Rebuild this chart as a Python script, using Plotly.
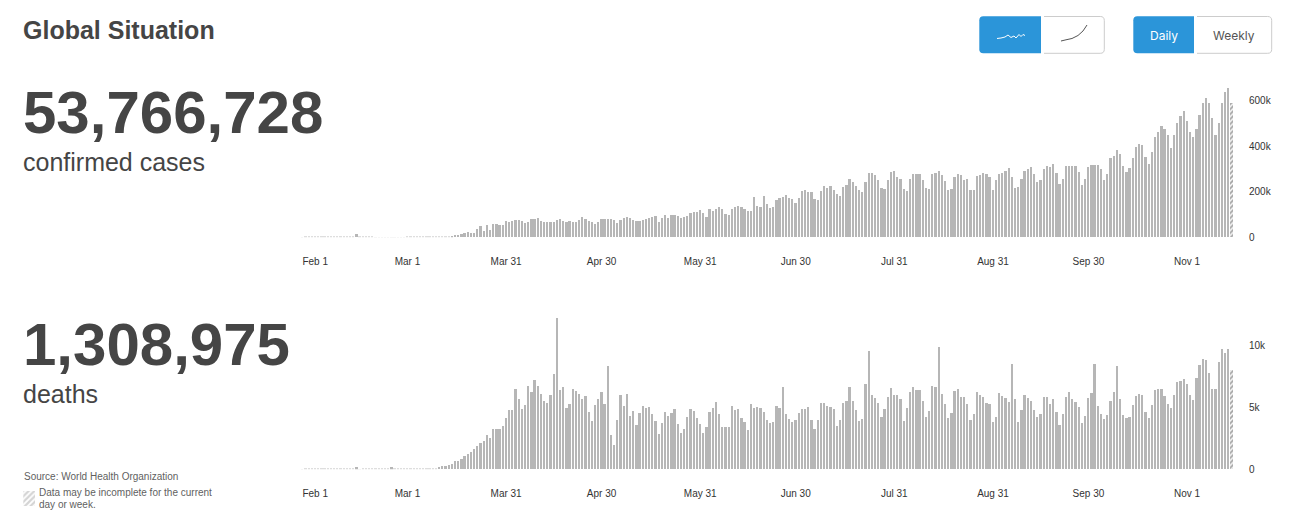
import pandas as pd
import plotly.graph_objects as go

W, H = 1297, 519
first_day = "2020-01-27"

confirmed_k = [
    0.7,1.5,1.5,1.7,2.1,
    2.6,2.8,3.2,3.9,3.7,3.2,3.4,2.7,3.1,2.5,2.0,2.0,15.0,4.0,2.6,2.0,2.0,1.8,0.3,0.5,0.5,1.0,0.3,0.4,0.7,0.8,1.0,1.0,1.5,
    1.8,1.7,1.8,2.2,2.5,2.7,3.0,3.5,3.9,4.5,4.4,
    4,4,7,9,12,15,18,25,20,19,
    37,48,26,53,34,58,58,54,54,70,
    69,70,76,74,70,63,69,79,80,85,
    73,67,66,66,69,76,79,73,67,70,
    67,66,77,91,80,73,69,60,67,80,
    82,79,80,77,64,77,83,88,
    85,76,73,70,76,82,86,88,95,
    69,85,99,85,99,98,95,85,88,93,
    107,111,111,120,108,88,124,114,123,131,
    126,104,99,124,134,136,134,126,114,115,
    177,136,133,180,146,127,131,164,172,175,
    185,172,166,150,172,201,206,200,197,166,
    165,201,223,215,226,209,190,181,220,231,
    256,241,226,206,199,242,280,282,272,251,
    218,210,251,288,293,264,256,212,204,257,
    276,276,276,251,215,212,276,282,292,273,
    248,207,210,264,276,
    273,251,254,209,209,267,274,283,277,266,
    209,250,279,280,291,302,263,218,220,254,
    291,301,310,279,241,250,298,311,310,321,
    280,235,257,311,311,314,314,286,229,254,
    308,318,318,318,298,251,279,347,355,385,
    366,311,288,304,350,396,409,407,352,321,
    375,442,463,486,476,447,390,447,502,534,
    552,511,463,439,476,537,590,609,588,523,
    447,502,587,639,657,588,
]

deaths = [
    10,25,25,40,45,
    45,55,60,65,70,75,85,90,100,105,105,100,160,10,65,70,100,100,115,120,115,100,100,150,70,50,45,55,60,
    65,70,75,80,100,100,105,
    108,108,216,270,297,351,405,675,702,810,
    1080,1269,1404,1674,1890,2160,2268,2754,2565,3240,
    3294,3267,3510,4131,4806,4779,6507,5724,4860,5211,
    6723,6291,7236,6750,6102,5508,5346,6021,7722,12285,
    6426,6669,4968,5319,6534,6372,6102,5724,5967,4644,
    3888,5184,5724,6264,5265,8397,2781,1944,3969,6048,
    5103,6102,
    4320,4752,3591,4536,5103,4941,5022,4455,3942,2862,
    3753,4617,4293,4536,4887,3699,2916,3294,4266,4914,
    4698,4158,3699,2916,3456,4644,4941,5427,4455,3402,
    3429,3456,5103,4779,4914,4131,3834,3186,5265,4995,
    5022,4941,4617,3969,3726,3861,5130,4968,6642,4482,
    4050,3807,3969,4590,4860,4887,5076,3996,3294,3969,
    5346,5400,5130,5049,4914,3510,3996,5373,5508,6696,
    5562,4779,3942,4104,6912,9612,6048,5778,5373,4266,
    4887,5832,6615,6021,5994,5670,3942,4941,6264,6669,
    6399,6426,5535,4266,4752,6750,6642,9882,6102,5265,
    4185,4590,6345,6534,
    5832,5832,5292,3996,4509,6291,6048,5832,5400,5319,
    3807,4266,6210,5940,5778,5481,8532,5670,3834,4833,
    6021,5751,5562,4806,4239,4455,5859,5859,5265,5670,
    4671,3564,4509,5832,6291,5670,5454,5049,3753,4320,
    5751,6156,8559,5157,4455,4104,4428,5508,6237,8397,
    5670,4428,4131,4212,5211,5940,6075,6048,4644,4131,
    5211,6426,6480,6534,5940,5292,4968,6021,7047,7155,
    7317,6885,5994,5616,7371,8451,8937,8883,7776,6480,
    6507,8694,9774,9423,9774,8046,
]

# The source labels month starts one day early for most of the year (a time-zone artefact).
tick_dates = ["2020-02-01","2020-03-01","2020-04-01","2020-05-01","2020-06-01","2020-07-01",
              "2020-08-01","2020-09-01","2020-10-01","2020-11-01"]
tick_labels = ["Feb 1","Mar 1","Mar 31","Apr 30","May 31","Jun 30","Jul 31","Aug 31","Sep 30","Nov 1"]
confirmed_ticks = [0, 200, 400, 600]
confirmed_tick_labels = ["0", "200k", "400k", "600k"]
death_ticks = [0, 5000, 10000]
death_tick_labels = ["0", "5k", "10k"]

BAR = "#b6b6b6"
DARK = "#454545"
BLUE = "#2b95d9"
SANS = "Liberation Sans, Arial, sans-serif"


def px(x):
    return x / W


def py(y):
    return 1 - y / H


def series_trace(values, xa, ya, faint_below):
    days = pd.date_range(first_day, periods=len(values), freq="D")
    n = len(values)
    return go.Bar(
        x=days, y=values, xaxis=xa, yaxis=ya, width=0.72 * 86400000, hoverinfo="skip",
        marker=dict(color=["white" if i == n - 1 else BAR for i in range(n)], line_width=0,
                    opacity=[0.45 if v < faint_below else 1 for v in values],
                    pattern=dict(shape=[""] * (n - 1) + ["/"], fgcolor=BAR, bgcolor="white",
                                 size=3.5, solidity=0.55)),
    )


def rounded(x0, y0, x1, y1, r, left=True, right=True):
    """Rounded-rectangle path in paper coordinates; a square side is left unstroked."""
    def p(x, y):
        return f"{px(x):.5f},{py(y):.5f}"
    d = []
    if right and not left:
        d.append("M" + p(x0, y0))
        d.append("L" + p(x1 - r, y0))
        d.append("Q" + p(x1, y0) + " " + p(x1, y0 + r))
        d.append("L" + p(x1, y1 - r))
        d.append("Q" + p(x1, y1) + " " + p(x1 - r, y1))
        d.append("L" + p(x0, y1))
        return " ".join(d)
    d.append("M" + p(x1, y0))
    d.append("L" + p(x0 + r, y0))
    d.append("Q" + p(x0, y0) + " " + p(x0, y0 + r))
    d.append("L" + p(x0, y1 - r))
    d.append("Q" + p(x0, y1) + " " + p(x0 + r, y1))
    d.append("L" + p(x1, y1))
    d.append("Z")
    return " ".join(d)


def squiggle(points):
    return " ".join(("M" if i == 0 else "L") + f"{px(x):.5f},{py(y):.5f}" for i, (x, y) in enumerate(points))


def shape_path(path, fill="rgba(0,0,0,0)", line="rgba(0,0,0,0)", lw=1):
    return dict(type="path", xref="paper", yref="paper", path=path, fillcolor=fill,
                line=dict(color=line, width=lw), layer="above")


shapes = [
    shape_path(rounded(1044, 16.5, 1104.3, 53.3, 4, left=False), "white", "#cccccc"),
    shape_path(rounded(979.3, 16.3, 1041, 53.3, 4, right=False), BLUE),
    shape_path(rounded(1197, 16.5, 1271.7, 53.3, 4, left=False), "white", "#cccccc"),
    shape_path(rounded(1133.3, 16.3, 1194, 53.3, 4, right=False), BLUE),
    shape_path(squiggle([(997, 38.5), (1001, 38), (1005, 37), (1008, 35), (1011, 37.5), (1014, 36),
                         (1016, 38), (1019, 34.5), (1021, 36.5), (1023, 34.5), (1025, 35.5)]), line="white"),
    shape_path(squiggle([(1061, 41), (1066, 39.8), (1072, 38.5), (1078, 35.5), (1083, 31), (1087, 25)]),
               line="#555555"),
]

annotations = []


def text(s, x, y, size, color=DARK, bold=False, anchor="left", family=SANS):
    annotations.append(dict(
        text=f"<b>{s}</b>" if bold else s, x=px(x), y=py(y), xref="paper", yref="paper",
        xanchor=anchor, yanchor="middle", showarrow=False, align=anchor,
        font=dict(size=size, color=color, family=family), borderpad=0, borderwidth=0))


text("Global Situation", 23, 30.5, 25, bold=True)
text("53,766,728", 23, 113, 60, bold=True)
text("confirmed cases", 23, 162, 25)
text("1,308,975", 23, 344, 60, bold=True)
text("deaths", 23, 394, 25)
text("Source:&nbsp;World Health Organization", 23.5, 476.5, 10, color="#5f5f5f")
text("Data may be incomplete for the current", 39, 492.5, 10, color="#5f5f5f")
text("day or week.", 39, 504.5, 10, color="#5f5f5f")
text("Daily", 1163.5, 35.5, 12, color="white", anchor="center", family="Inter")
text("Weekly", 1234, 35.5, 12, color="#555555", anchor="center", family="Inter")

fig = go.Figure()
fig.add_trace(series_trace(confirmed_k, "x", "y", 6))
fig.add_trace(series_trace(deaths, "x2", "y2", 130))
fig.add_trace(go.Bar(x=[0], y=[1], xaxis="x3", yaxis="y3", width=1, hoverinfo="skip",
                     marker=dict(color="white", line_width=0,
                                 pattern=dict(shape="/", fgcolor="#aaaaaa", bgcolor="white",
                                              size=4, solidity=0.55))))

# Feb 1 sits at x=318.2 and one day spans 3.182 px
PITCH = 3.182
ORIGIN = 318.2
X0, X1 = 299, 1234
start = pd.Timestamp("2020-02-01") + pd.Timedelta(days=(X0 - ORIGIN) / PITCH)
end = pd.Timestamp("2020-02-01") + pd.Timedelta(days=(X1 - ORIGIN) / PITCH)
xrange_ = [start.isoformat(), end.isoformat()]

xcommon = dict(type="date", range=xrange_, domain=[px(X0), px(X1)], tickmode="array",
               tickvals=tick_dates, ticktext=tick_labels, showgrid=False, zeroline=False,
               showline=False, ticks="", ticklabelstandoff=17, ticklabelshift=-3, automargin=False,
               tickfont=dict(size=10, color="#333333", family=SANS), tickangle=0)
ycommon = dict(side="right", showgrid=False, zeroline=False, showline=False, ticks="",
               ticklabelstandoff=14, tickmode="array", automargin=False,
               tickfont=dict(size=10, color="#333333", family=SANS))

TOP_TOP, TOP_BASE = 85, 237.3
BOT_TOP, BOT_BASE = 315, 469.3

fig.update_layout(
    width=W, height=H, autosize=False, margin=dict(l=0, r=0, t=0, b=0),
    paper_bgcolor="white", plot_bgcolor="white", showlegend=False, bargap=0,
    shapes=shapes, annotations=annotations,
    xaxis=dict(**xcommon, anchor="y"),
    xaxis2=dict(**xcommon, anchor="y2"),
    yaxis=dict(**ycommon, anchor="x", domain=[py(TOP_BASE), py(TOP_TOP)],
               range=[0, (TOP_BASE - TOP_TOP) / 0.228],
               tickvals=confirmed_ticks, ticktext=confirmed_tick_labels),
    yaxis2=dict(**ycommon, anchor="x2", domain=[py(BOT_BASE), py(BOT_TOP)],
                range=[0, (BOT_BASE - BOT_TOP) / 61.67 * 5000],
                tickvals=death_ticks, ticktext=death_tick_labels),
    xaxis3=dict(domain=[px(23.3), px(35)], range=[-0.5, 0.5], visible=False, anchor="y3", automargin=False),
    yaxis3=dict(domain=[py(506), py(490.7)], range=[0, 1], visible=False, anchor="x3", automargin=False),
)

fig.write_html("out.html", config={"displayModeBar": False},
               post_script="document.body.style.margin='0';document.body.style.overflow='hidden';")
